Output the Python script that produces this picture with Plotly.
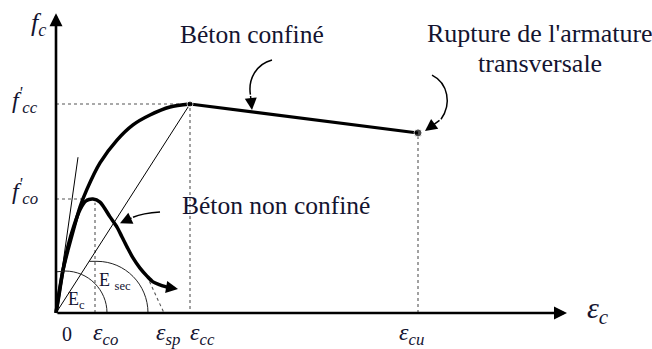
import plotly.graph_objects as go

# Strain axis in units of 1e-3, stress in MPa (schematic values)
eps_co, eps_sp, eps_cc, eps_cu = 1.95, 5.4, 6.7, 18.1
f_co, f_cc, f_cu = 30.0, 55.0, 47.4

# Confined concrete: ascending branch then linear softening to rupture
conf_eps = [0, 0.15, 0.35, 0.6, 0.9, 1.2, 1.55, 2.2, 3.05, 3.85, 4.7, 5.7, 6.7]
conf_sig = [0, 5.3, 11.3, 16.6, 22.4, 27.9, 32.6, 39.5, 45.5, 49.5, 52.1, 54.2, 55.0]

# Unconfined concrete
unc_eps = [0, 0.15, 0.35, 0.6, 0.9, 1.2, 1.5, 1.85, 2.2, 2.7, 3.05, 3.3, 3.55,
           3.85, 4.2, 4.55, 4.85, 5.2, 5.55]
unc_sig = [0, 4.7, 11.3, 17.6, 23.0, 27.2, 29.5, 30.0, 29.2, 25.3, 22.6, 20.0,
           17.4, 14.5, 11.8, 9.7, 8.2, 7.4, 6.8]
unc_tip = (6.1, 6.3)

# Initial tangent modulus line end and spalling extension start
ec_end = (1.1, 41.0)
spall_start = (4.55, 9.7)

TXT = "#141430"
SERIF = "Liberation Serif"

fig = go.Figure()

thin = dict(color="black", width=1)
dot = dict(color="#555555", width=1.1, dash="dot")

# Guide lines
fig.add_trace(go.Scatter(x=[0, eps_cc, eps_cc], y=[f_cc, f_cc, 0], mode="lines", line=dot))
fig.add_trace(go.Scatter(x=[0, 1.85], y=[f_co, f_co], mode="lines", line=dot))
fig.add_trace(go.Scatter(x=[eps_co, eps_co], y=[0, 29.0], mode="lines", line=dot))
fig.add_trace(go.Scatter(x=[eps_cu, eps_cu], y=[0, f_cu], mode="lines", line=dot))
fig.add_trace(go.Scatter(x=[spall_start[0], eps_sp], y=[spall_start[1], 0], mode="lines", line=dot))

# Tangent and secant moduli
fig.add_trace(go.Scatter(x=[0, ec_end[0]], y=[0, ec_end[1]], mode="lines", line=thin))
fig.add_trace(go.Scatter(x=[0, eps_cc], y=[0, f_cc], mode="lines", line=thin))

# Stress-strain curves
fig.add_trace(go.Scatter(x=unc_eps, y=unc_sig, mode="lines",
                         line=dict(color="black", width=3.5, shape="spline", smoothing=0.8)))
fig.add_trace(go.Scatter(x=conf_eps, y=conf_sig, mode="lines",
                         line=dict(color="black", width=3.5, shape="spline", smoothing=0.8)))
fig.add_trace(go.Scatter(x=[eps_cc, eps_cu], y=[f_cc, f_cu], mode="lines+markers",
                         line=dict(color="black", width=3),
                         marker=dict(color="black", size=[6, 8])))

# Modulus arcs
fig.add_shape(type="path", xref="x", yref="y",
              path="M 2.55,0 C 2.55,6.10 1.61,11.05 0.45,11.05 L 0.05,10.85",
              line=dict(color="#222222", width=1))
fig.add_shape(type="path", xref="x", yref="y",
              path="M 4.6,0 C 4.6,7.5 3.46,13.6 2.05,13.6 L 1.66,13.6",
              line=dict(color="#222222", width=1))

# Curved leader lines
fig.add_shape(type="path", xref="x", yref="y",
              path="M 10.8,66.6 C 10.0,65.5 9.6,61.5 9.72,57.5",
              line=dict(color="black", width=1.5))
fig.add_shape(type="path", xref="x", yref="y",
              path="M 5.2,26.6 C 4.6,26.4 4.2,26.0 3.85,25.2",
              line=dict(color="black", width=1.5))
fig.add_shape(type="path", xref="x", yref="y",
              path="M 18.8,62.6 C 19.6,60.5 19.8,55.0 19.25,51.0",
              line=dict(color="black", width=1.5))


def arrow(tip, tail, width, size):
    fig.add_annotation(x=tip[0], y=tip[1], ax=tail[0], ay=tail[1],
                       xref="x", yref="y", axref="x", ayref="y", text="",
                       showarrow=True, arrowhead=2, arrowsize=size,
                       arrowwidth=width, arrowcolor="black", standoff=0)


# Axes
arrow((0, 78.9), (0, 0), 2.6, 1.0)
arrow((25.55, 0), (0, 0), 2.6, 1.0)
# Arrow heads
arrow(unc_tip, (unc_eps[-1], unc_sig[-1]), 3.0, 0.8)
arrow((9.8, 53.4), (9.72, 57.5), 1.5, 1.6)
arrow((3.2, 23.6), (3.85, 25.2), 1.5, 1.6)
arrow((18.45, 47.9), (19.25, 51.0), 1.5, 1.6)


def label(x, y, text, size=24, color=TXT):
    fig.add_annotation(x=x, y=y, xref="x", yref="y", text=text, showarrow=False,
                       xanchor="center", yanchor="middle",
                       font=dict(family=SERIF, size=size, color=color))


label(-0.9, 76.0, "<i>f<sub>c</sub></i>", 26)
label(-1.55, 56.0, "<i>f<sup>'</sup><sub>cc</sub></i>", 24)
label(-1.55, 32.0, "<i>f<sup>'</sup><sub>co</sub></i>", 24)

label(0.55, -5.6, "0", 20)
label(2.45, -5.6, "<i>ε<sub>co</sub></i>", 24)
label(5.6, -5.6, "<i>ε<sub>sp</sub></i>", 24)
label(7.3, -5.6, "<i>ε<sub>cc</sub></i>", 24)
label(17.75, -5.6, "<i>ε<sub>cu</sub></i>", 24)
label(27.1, 0.8, "<i>ε<sub>c</sub></i>", 30)

label(1.0, 3.4, "E<sub>c</sub>", 18)
label(2.95, 8.4, "E <sub>sec</sub>", 18)

label(9.8, 73.2, "Béton confiné", 25.5)
label(11.0, 28.2, "Béton non confiné", 25.5)
label(24.2, 73.6, "Rupture de l'armature", 26)
label(24.2, 65.6, "transversale", 26)

fig.update_layout(
    width=652, height=349, margin=dict(l=0, r=0, t=0, b=0),
    paper_bgcolor="white", plot_bgcolor="white", showlegend=False,
    font=dict(family=SERIF),
    xaxis=dict(range=[-2.8, 29.8], visible=False, fixedrange=True),
    yaxis=dict(range=[-9.47, 82.37], visible=False, fixedrange=True),
)

fig.write_html("out.html")
